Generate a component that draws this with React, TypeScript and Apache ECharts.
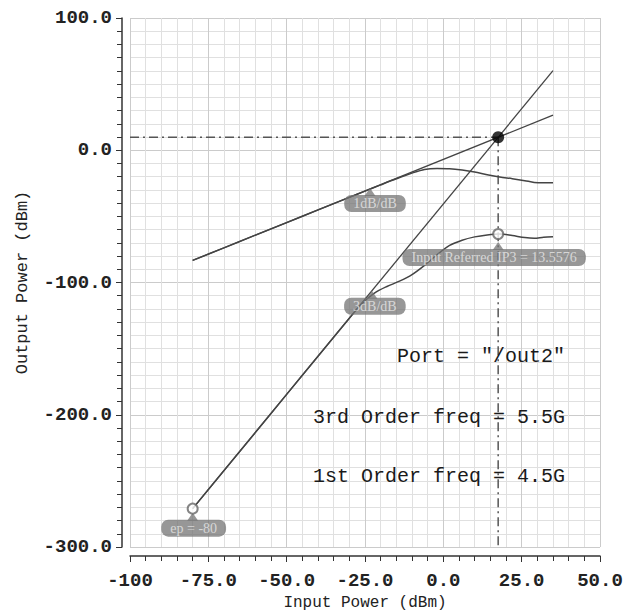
import React, { useEffect, useRef } from 'react';
import * as echarts from 'echarts';

// Fundamental (1st order) output vs input power
const fundIn = [-80, -70, -60, -50, -40, -30, -25, -20, -15, -10, -6, -2, 2, 6, 10, 14, 18, 22, 26, 29, 32, 35];
const fundOut = [-83.3, -73.8, -64.2, -54.7, -45.1, -35.6, -30.9, -26.2, -21.6, -17.3, -14.5, -13.8, -14, -15, -16.5, -18.5, -20.2, -21.5, -23, -24.3, -24.6, -24.6];

// 3rd order intermod output vs input power
const im3In = [-80, -70, -60, -50, -40, -30, -26, -22, -18, -14, -10, -6, -2, 2, 6, 10, 14, 18, 22, 26, 29, 32, 35];
const im3Out = [-271, -242.2, -213.4, -184.6, -155.8, -127, -116, -108, -103, -99, -94, -87, -79, -72, -68, -65.5, -64, -63.3, -64.5, -66, -66.5, -65.8, -65.5];

// Extrapolated lines (1 dB/dB and 3 dB/dB)
const line1In = [-80, 35];
const line1Out = [-83.3, 26.5];
const line3In = [-80, 35];
const line3Out = [-271, 60.2];

// Intercept point
const ip3In = 17.5;
const ip3Out = 9.8;

// Marker labels
const markerNames = ['1dB/dB', '3dB/dB', 'Input Referred IP3 = 13.5576', 'ep = -80'];
const markerX = [-23.4, -22.8, 17.5, -80];
const markerY = [-29.3, -106.2, -63.3, -271];
const markerGap = [6, 7, 15, 11];
const markerShift = [5, 3, -4, 1];

// Circle markers
const circleX = [17.5, -80];
const circleY = [-63.3, -271];

const annotations = ['Port = "/out2"', '3rd Order freq = 5.5G', '1st Order freq = 4.5G'];

const zip = (a: number[], b: number[]) => a.map((v, i) => [v, b[i]]);

export default function App() {
  const ref = useRef<HTMLDivElement>(null);
  useEffect(() => {
    document.body.style.margin = '0';
    const chart = echarts.init(ref.current!, null, { renderer: 'svg' });
    const mono = 'Liberation Mono';
    const dash = [9, 4, 2, 4];
    const boxColor = 'rgba(115,115,115,0.93)';
    chart.setOption({
      animation: false,
      backgroundColor: '#ffffff',
      grid: { left: 130, right: 42, top: 18, bottom: 66, outerBoundsMode: 'none', containLabel: false },
      xAxis: {
        type: 'value',
        min: -100,
        max: 50,
        interval: 25,
        offset: 9,
        name: 'Input Power (dBm)',
        nameLocation: 'middle',
        nameGap: 38,
        nameTextStyle: { fontFamily: mono, fontSize: 16, color: '#222' },
        axisLine: { show: true, onZero: false, lineStyle: { color: '#333', width: 1.5 } },
        axisTick: { show: true, length: 6, lineStyle: { color: '#333' } },
        minorTick: { show: true, splitNumber: 5, length: 5, lineStyle: { color: '#333' } },
        splitLine: { show: true, lineStyle: { color: '#cbcbcb', width: 1 } },
        minorSplitLine: { show: true, lineStyle: { color: '#e0e0e0', width: 1 } },
        axisLabel: {
          margin: 15,
          fontFamily: mono,
          fontSize: 19,
          fontWeight: 'bold',
          color: '#222',
          formatter: (v: number) => (v === -100 ? '-100' : v.toFixed(1)),
        },
      },
      yAxis: {
        type: 'value',
        min: -300,
        max: 100,
        interval: 100,
        offset: 8,
        name: 'Output Power (dBm)',
        nameLocation: 'middle',
        nameGap: 91,
        nameTextStyle: { fontFamily: mono, fontSize: 17, color: '#222' },
        axisLine: { show: true, onZero: false, lineStyle: { color: '#333', width: 1.5 } },
        axisTick: { show: true, length: 6, lineStyle: { color: '#333' } },
        minorTick: { show: true, splitNumber: 10, length: 5, lineStyle: { color: '#333' } },
        splitLine: { show: true, lineStyle: { color: '#cbcbcb', width: 1 } },
        minorSplitLine: { show: true, lineStyle: { color: '#e0e0e0', width: 1 } },
        axisLabel: {
          margin: 10,
          fontFamily: mono,
          fontSize: 19,
          fontWeight: 'bold',
          color: '#222',
          formatter: (v: number) => v.toFixed(1),
        },
      },
      series: [
        {
          type: 'line',
          data: [[-100, ip3Out], [ip3In, ip3Out]],
          symbol: 'none',
          lineStyle: { color: '#555', width: 1.5, type: dash },
          z: 2,
        },
        {
          type: 'line',
          data: [[ip3In, ip3Out], [ip3In, -300]],
          symbol: 'none',
          lineStyle: { color: '#555', width: 1.5, type: dash },
          z: 2,
        },
        {
          type: 'line',
          data: zip(line1In, line1Out),
          symbol: 'none',
          lineStyle: { color: '#444', width: 1.3 },
          z: 3,
        },
        {
          type: 'line',
          data: zip(line3In, line3Out),
          symbol: 'none',
          lineStyle: { color: '#444', width: 1.3 },
          z: 3,
        },
        {
          type: 'line',
          data: zip(fundIn, fundOut),
          symbol: 'none',
          smooth: 0.3,
          lineStyle: { color: '#444', width: 1.5 },
          z: 3,
        },
        {
          type: 'line',
          data: zip(im3In, im3Out),
          symbol: 'none',
          smooth: 0.3,
          lineStyle: { color: '#444', width: 1.5 },
          z: 3,
        },
        {
          type: 'scatter',
          data: markerNames.map((n, i) => ({
            value: [markerX[i], markerY[i]],
            symbolOffset: [0, markerGap[i] - 3],
          })),
          symbol: 'triangle',
          symbolSize: [11, 8],
          itemStyle: { color: boxColor },
          z: 9,
        },
        {
          type: 'scatter',
          data: zip(circleX, circleY),
          symbol: 'emptyCircle',
          symbolSize: 10,
          itemStyle: { color: '#666', borderColor: '#666', borderWidth: 1.4 },
          z: 11,
        },
        {
          type: 'scatter',
          data: [[ip3In, ip3Out]],
          symbol: 'circle',
          symbolSize: 12,
          itemStyle: { color: '#000' },
          z: 12,
        },
        {
          type: 'scatter',
          symbolSize: 0,
          z: 10,
          data: markerNames.map((n, i) => ({
            value: [markerX[i], markerY[i]],
            label: {
              show: true,
              position: 'bottom',
              distance: markerGap[i],
              offset: [markerShift[i], 0],
              formatter: n,
              backgroundColor: boxColor,
              borderRadius: 7,
              padding: [2, 9, 1, 9],
              color: '#e8e8e8',
              fontFamily: 'Liberation Serif',
              fontSize: 14,
            },
          })),
        },
      ],
      graphic: annotations.map((t, i) => ({
        type: 'text',
        right: 77,
        top: [346, 407, 466][i],
        z: 20,
        style: {
          text: t,
          fontFamily: mono,
          fontSize: 20,
          fill: '#1a1a1a',
        },
      })),
    });
    return () => chart.dispose();
  }, []);
  return <div ref={ref} style={{ width: 642, height: 613 }} />;
}
